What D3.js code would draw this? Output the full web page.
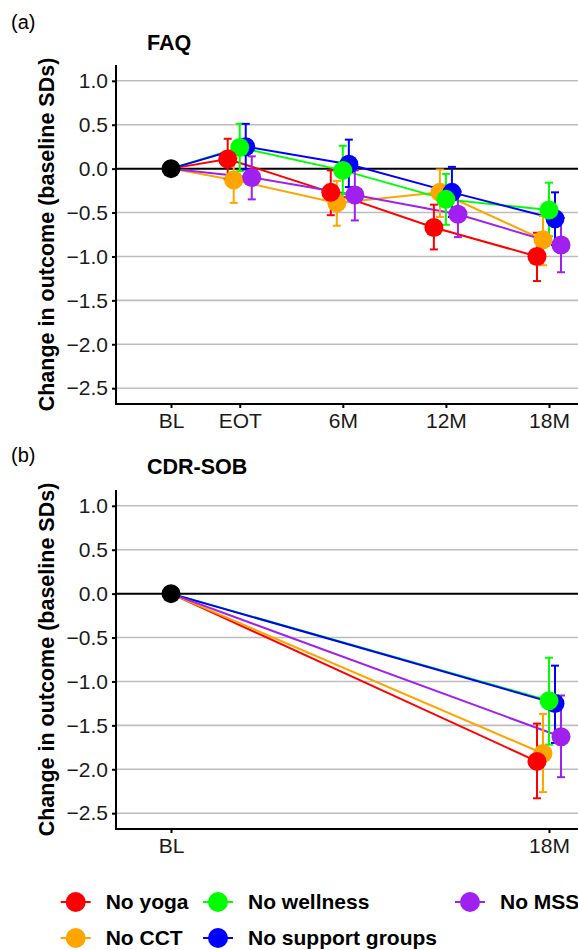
<!DOCTYPE html>
<html>
<head>
<meta charset="utf-8">
<script src="https://cdn.jsdelivr.net/npm/d3@7"></script>
<style>
  body { margin: 0; background: #fff; }
  svg { display: block; font-family: "Liberation Sans", Arial, sans-serif; }
</style>
</head>
<body>
<script>
// time points (x axis), months relative to end of treatment
const timeLabels = ['BL', 'EOT', '6M', '12M', '18M'];
const timeMonths = [-4, 0, 6, 12, 18];

const seriesNames = ['No yoga', 'No CCT', 'No wellness', 'No support groups', 'No MSS'];
const seriesColors = ['#ff0000', '#ffa500', '#00ff00', '#0000ff', '#a020f0'];
// draw order of the points (later ones on top)
const drawOrder = ['No CCT', 'No support groups', 'No MSS', 'No wellness', 'No yoga'];

const yTicks = [-2.5, -2.0, -1.5, -1.0, -0.5, 0.0, 0.5, 1.0];

// FAQ: EOT, 6M, 12M, 18M for each series
const faqMean = [
  [0.11, -0.27, -0.67, -1.00],
  [-0.13, -0.39, -0.27, -0.81],
  [0.24, -0.02, -0.35, -0.47],
  [0.25, 0.05, -0.27, -0.57],
  [-0.10, -0.30, -0.52, -0.87]
];
const faqLow = [
  [-0.12, -0.53, -0.92, -1.28],
  [-0.39, -0.65, -0.55, -1.10],
  [-0.03, -0.29, -0.64, -0.77],
  [-0.01, -0.21, -0.55, -0.87],
  [-0.35, -0.59, -0.78, -1.18]
];
const faqHigh = [
  [0.34, -0.02, -0.41, -0.73],
  [0.12, -0.14, -0.01, -0.54],
  [0.51, 0.26, -0.06, -0.16],
  [0.51, 0.33, 0.02, -0.27],
  [0.14, -0.02, -0.26, -0.56]
];

// CDR-SOB: 18M only
const cdrMean = [-1.91, -1.82, -1.22, -1.25, -1.63];
const cdrLow = [-2.33, -2.26, -1.72, -1.70, -2.09];
const cdrHigh = [-1.48, -1.37, -0.73, -0.82, -1.16];

const width = 578, height = 950;
const axisX = 116;

const svg = d3.select('body').append('svg')
  .attr('width', width)
  .attr('height', height);

const x = d3.scaleLinear().domain([-4, 18]).range([171, 549]);
const dodge = d3.scalePoint().domain(seriesNames).range([-0.7, 0.7]);
const color = d3.scaleOrdinal().domain(seriesNames).range(seriesColors);

const buildSeries = (times, mean, low, high) => seriesNames.map((name, i) => ({
  name: name,
  points: times.map((t, j) => ({t: t, v: mean[i][j], lo: low[i][j], hi: high[i][j]}))
}));

const faqSeries = buildSeries(timeMonths.slice(1), faqMean, faqLow, faqHigh);
const cdrSeries = buildSeries([18], cdrMean.map(d => [d]), cdrLow.map(d => [d]), cdrHigh.map(d => [d]));

const drawPanel = (opts) => {
  const y = d3.scaleLinear().domain([-2.68, 1.18]).range([opts.bottom, opts.top]);
  const g = svg.append('g');

  svg.append('text')
    .attr('x', 11).attr('y', opts.tagY)
    .style('font-size', '20px')
    .text(opts.tag);
  svg.append('text')
    .attr('x', 147).attr('y', opts.titleY)
    .style('font-size', '21.5px')
    .style('font-weight', 'bold')
    .text(opts.title);

  //grid
  g.selectAll('.grid')
    .data(yTicks.filter(d => d !== 0))
    .enter().append('line')
    .attr('x1', axisX).attr('x2', width)
    .attr('y1', d => y(d)).attr('y2', d => y(d))
    .attr('stroke', '#bdbdbd')
    .attr('stroke-width', 1.6);
  g.append('line')
    .attr('x1', axisX).attr('x2', width)
    .attr('y1', y(0)).attr('y2', y(0))
    .attr('stroke', '#000')
    .attr('stroke-width', 2);

  //axes
  const yAxis = d3.axisLeft(y)
    .tickValues(yTicks)
    .tickFormat(d3.format('.1f'))
    .tickSize(4)
    .tickSizeOuter(0)
    .tickPadding(4);
  const ya = g.append('g')
    .attr('transform', 'translate(' + axisX + ',0)')
    .call(yAxis);
  ya.select('.domain').remove();
  ya.selectAll('line').attr('stroke-width', 2);
  ya.selectAll('text').style('font-size', '21px').attr('fill', '#1a1a1a');

  const xAxis = d3.axisBottom(x)
    .tickValues(opts.xTicks)
    .tickFormat(d => timeLabels[timeMonths.indexOf(d)])
    .tickSize(4)
    .tickSizeOuter(0)
    .tickPadding(5);
  const xa = g.append('g')
    .attr('transform', 'translate(0,' + opts.bottom + ')')
    .call(xAxis);
  xa.select('.domain').remove();
  xa.selectAll('line').attr('stroke-width', 2);
  xa.selectAll('text').style('font-size', '21px').attr('fill', '#1a1a1a');

  g.append('path')
    .attr('d', 'M' + axisX + ',' + opts.top + 'V' + opts.bottom + 'H' + width)
    .attr('fill', 'none')
    .attr('stroke', '#000')
    .attr('stroke-width', 2);

  svg.append('text')
    .attr('transform', 'translate(54,' + (opts.top + opts.bottom) / 2 + ') rotate(-90)')
    .attr('text-anchor', 'middle')
    .style('font-size', '21.5px')
    .style('font-weight', 'bold')
    .text('Change in outcome (baseline SDs)');

  const px = (name, d) => x(d.t + dodge(name));

  //lines from baseline
  const line = d3.line()
    .x(d => d.px)
    .y(d => y(d.v));
  opts.series.forEach(s => {
    const pts = [{px: x(-4), v: 0}].concat(s.points.map(d => ({px: px(s.name, d), v: d.v})));
    g.append('path')
      .attr('d', line(pts))
      .attr('fill', 'none')
      .attr('stroke', color(s.name))
      .attr('stroke-width', 2);
  });

  //error bars
  opts.series.forEach(s => {
    const eb = g.append('g').attr('stroke', color(s.name)).attr('stroke-width', 2);
    s.points.forEach(d => {
      const cx = px(s.name, d);
      eb.append('line').attr('x1', cx).attr('x2', cx).attr('y1', y(d.lo)).attr('y2', y(d.hi));
      eb.append('line').attr('x1', cx - 4).attr('x2', cx + 4).attr('y1', y(d.lo)).attr('y2', y(d.lo));
      eb.append('line').attr('x1', cx - 4).attr('x2', cx + 4).attr('y1', y(d.hi)).attr('y2', y(d.hi));
    });
  });

  //points
  g.append('circle')
    .attr('cx', x(-4)).attr('cy', y(0))
    .attr('r', 9.5)
    .attr('fill', '#000');
  drawOrder.forEach(name => {
    const s = opts.series.find(e => e.name === name);
    g.selectAll(null)
      .data(s.points)
      .enter().append('circle')
      .attr('cx', d => px(name, d))
      .attr('cy', d => y(d.v))
      .attr('r', 9.5)
      .attr('fill', color(name));
  });
};

drawPanel({tag: '(a)', title: 'FAQ', tagY: 29, titleY: 50, top: 65, bottom: 404,
  xTicks: timeMonths, series: faqSeries});
drawPanel({tag: '(b)', title: 'CDR-SOB', tagY: 462, titleY: 474, top: 490, bottom: 829,
  xTicks: [-4, 18], series: cdrSeries});

//legend, filled by column with two rows
const legendCols = [75.7, 218, 470];
const legendRows = [902, 938];
const legend = svg.append('g');
seriesNames.forEach((name, i) => {
  const kx = legendCols[Math.floor(i / 2)];
  const ky = legendRows[i % 2];
  legend.append('line')
    .attr('x1', kx - 15).attr('x2', kx + 15)
    .attr('y1', ky).attr('y2', ky)
    .attr('stroke', color(name))
    .attr('stroke-width', 2);
  legend.append('circle')
    .attr('cx', kx).attr('cy', ky)
    .attr('r', 10)
    .attr('fill', color(name));
  legend.append('text')
    .attr('x', kx + 30).attr('y', ky)
    .attr('dy', '0.35em')
    .style('font-size', '21px')
    .style('font-weight', 'bold')
    .text(name);
});
</script>
</body>
</html>
